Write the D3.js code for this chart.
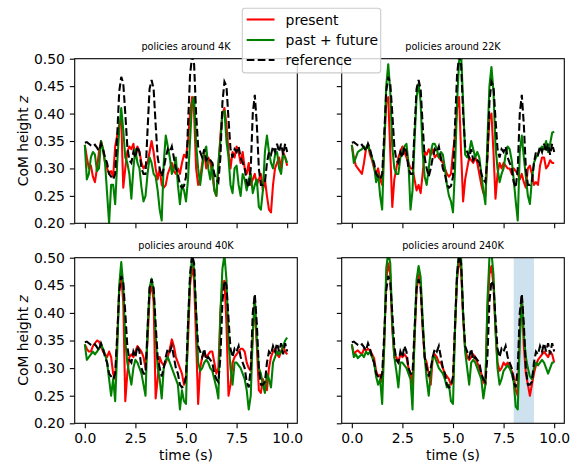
<!DOCTYPE html>
<html><head><meta charset="utf-8">
<script src="https://cdn.jsdelivr.net/npm/d3@7"></script>
<style>body{margin:0;background:#fff}svg{display:block}</style>
</head><body>
<svg id="chart" width="580" height="465"></svg>
<script>
// sample times (s), 0.1 s steps
const time = d3.range(101).map(i => i / 10);

const reference = [
 .347,.348,.345,.342,.340,.343,.338,.332,.345,.335,
 .320,.310,.290,.285,.280,.290,.360,.440,.467,.455,
 .400,.340,.315,.310,.330,.320,.340,.330,.300,.290,
 .290,.370,.445,.461,.445,.380,.320,.300,.285,.300,
 .320,.335,.330,.340,.320,.300,.290,.270,.265,.268,
 .285,.380,.470,.505,.490,.400,.340,.330,.320,.335,
 .315,.320,.315,.310,.290,.280,.275,.320,.420,.458,
 .450,.390,.335,.320,.335,.330,.340,.320,.310,.300,
 .275,.265,.300,.400,.434,.380,.300,.270,.270,.275,
 .310,.330,.325,.340,.330,.345,.330,.345,.325,.345,
 .330];

const present4K = [
 .343,.320,.300,.305,.285,.275,.300,.330,.350,.335,
 .310,.300,.290,.295,.285,.340,.360,.380,.390,.265,
 .300,.330,.340,.335,.345,.320,.340,.330,.310,.300,
 .305,.310,.330,.350,.330,.300,.280,.300,.270,.265,
 .270,.290,.300,.310,.295,.290,.300,.290,.310,.325,
 .320,.350,.400,.430,.400,.300,.270,.280,.310,.330,
 .300,.320,.310,.290,.260,.250,.300,.360,.400,.410,
 .380,.330,.300,.330,.320,.340,.330,.310,.330,.300,
 .290,.310,.270,.280,.290,.270,.280,.290,.260,.280,
 .250,.225,.220,.270,.300,.310,.320,.300,.330,.320,
 .305];
const pastFuture4K = [
 .343,.280,.290,.320,.330,.325,.295,.300,.350,.335,
 .310,.255,.200,.270,.270,.235,.310,.370,.410,.370,
 .320,.310,.290,.245,.300,.335,.310,.300,.265,.240,
 .250,.290,.320,.310,.290,.285,.260,.225,.205,.310,
 .360,.340,.320,.290,.300,.320,.270,.235,.270,.260,
 .240,.280,.350,.420,.430,.345,.300,.270,.300,.330,
 .340,.300,.280,.310,.260,.250,.310,.350,.400,.405,
 .350,.320,.270,.255,.300,.305,.270,.250,.290,.280,
 .260,.280,.290,.255,.270,.280,.230,.225,.260,.330,
 .360,.330,.310,.300,.325,.330,.300,.290,.325,.320,
 .310];

const present22K = [
 .343,.320,.305,.300,.295,.290,.310,.335,.343,.325,
 .315,.300,.290,.300,.280,.270,.340,.420,.430,.330,
 .230,.280,.300,.320,.330,.340,.330,.320,.310,.300,
 .300,.280,.260,.270,.255,.290,.330,.325,.335,.325,
 .335,.320,.325,.320,.315,.310,.300,.290,.285,.290,
 .330,.360,.410,.430,.330,.240,.280,.300,.320,.315,
 .310,.320,.310,.290,.270,.255,.250,.320,.390,.400,
 .330,.245,.290,.310,.300,.310,.305,.300,.300,.290,
 .300,.295,.290,.280,.290,.275,.265,.300,.305,.290,
 .270,.275,.270,.305,.320,.320,.300,.305,.315,.310,
 .310];
const pastFuture22K = [
 .343,.310,.320,.330,.333,.335,.340,.335,.345,.330,
 .320,.305,.275,.290,.250,.225,.340,.450,.490,.440,
 .340,.300,.290,.290,.320,.330,.340,.345,.310,.225,
 .260,.350,.430,.455,.420,.330,.285,.270,.300,.330,
 .345,.345,.335,.320,.330,.325,.300,.270,.250,.240,
 .220,.300,.420,.495,.510,.420,.325,.320,.330,.350,
 .335,.320,.330,.320,.290,.260,.235,.350,.450,.485,
 .440,.340,.300,.275,.290,.300,.325,.340,.335,.315,
 .280,.240,.205,.330,.360,.320,.285,.250,.235,.280,
 .310,.320,.325,.335,.340,.335,.350,.330,.345,.365,
 .367];

const present40K = [
 .343,.335,.330,.330,.340,.345,.350,.348,.340,.330,
 .325,.320,.330,.320,.290,.280,.350,.440,.465,.420,
 .240,.290,.320,.325,.320,.330,.340,.335,.330,.320,
 .300,.350,.430,.455,.420,.245,.280,.320,.310,.305,
 .310,.320,.335,.352,.340,.320,.310,.300,.290,.270,
 .285,.350,.450,.485,.460,.350,.235,.300,.320,.325,
 .320,.325,.330,.330,.310,.290,.300,.400,.455,.458,
 .380,.250,.270,.310,.320,.325,.330,.335,.335,.330,
 .310,.300,.295,.360,.420,.340,.260,.255,.280,.270,
 .260,.300,.320,.330,.335,.325,.320,.330,.340,.330,
 .325];
const pastFuture40K = [
 .343,.315,.320,.325,.330,.325,.330,.335,.343,.335,
 .325,.310,.280,.250,.280,.240,.330,.450,.492,.450,
 .350,.310,.290,.270,.300,.315,.310,.300,.290,.270,
 .250,.370,.445,.462,.440,.360,.300,.280,.245,.300,
 .315,.320,.310,.300,.290,.280,.270,.225,.260,.240,
 .235,.380,.460,.500,.480,.400,.310,.295,.300,.310,
 .315,.310,.300,.295,.280,.265,.245,.400,.480,.505,
 .460,.350,.300,.270,.310,.310,.305,.300,.290,.280,
 .260,.225,.250,.360,.430,.350,.300,.290,.270,.255,
 .290,.280,.265,.310,.320,.330,.325,.330,.340,.350,
 .355];

const present240K = [
 .343,.325,.330,.332,.328,.325,.335,.332,.335,.332,
 .325,.318,.295,.285,.288,.275,.340,.460,.490,.470,
 .370,.320,.320,.310,.325,.320,.325,.320,.300,.290,
 .270,.350,.440,.470,.450,.370,.320,.310,.290,.270,
 .320,.325,.320,.310,.310,.300,.290,.285,.280,.270,
 .275,.370,.460,.495,.480,.390,.335,.320,.315,.320,
 .325,.318,.310,.300,.290,.275,.270,.400,.470,.485,
 .450,.370,.310,.295,.300,.310,.305,.310,.300,.295,
 .285,.260,.250,.360,.430,.340,.290,.270,.250,.270,
 .290,.305,.315,.320,.325,.330,.325,.320,.330,.325,
 .310];
const pastFuture240K = [
 .343,.320,.325,.318,.322,.325,.320,.330,.325,.330,
 .320,.310,.285,.270,.280,.235,.340,.480,.510,.490,
 .380,.320,.295,.265,.310,.310,.305,.300,.290,.280,
 .225,.360,.460,.485,.465,.390,.320,.280,.250,.290,
 .320,.320,.310,.300,.295,.290,.280,.265,.270,.240,
 .235,.370,.470,.510,.500,.400,.330,.300,.270,.310,
 .315,.310,.300,.290,.280,.245,.270,.420,.500,.510,
 .470,.370,.300,.270,.280,.295,.300,.305,.300,.290,
 .275,.230,.225,.350,.430,.360,.320,.300,.285,.280,
 .300,.310,.305,.310,.315,.310,.300,.290,.300,.310,
 .310];

const panelTitles = ["policies around 4K", "policies around 22K", "policies around 40K", "policies around 240K"];
const presentSeries = [present4K, present22K, present40K, present240K];
const pastFutureSeries = [pastFuture4K, pastFuture22K, pastFuture40K, pastFuture240K];
const xTicks = [0, 2.5, 5, 7.5, 10];
const yTicks = [0.20, 0.25, 0.30, 0.35, 0.40, 0.45, 0.50];
const highlightSpan = [8, 9]; // only in last panel
const legendLabels = ["present", "past + future", "reference"];

const FONT = "DejaVu Sans, sans-serif";
const svg = d3.select("#chart");
const lw = 2.08;
const dash = "7.7,3.3";

const boxes = [
  {x0: 74.7, x1: 297.3, y0: 58.7, y1: 223.3},
  {x0: 341.7, x1: 564.3, y0: 58.7, y1: 223.3},
  {x0: 74.7, x1: 297.3, y0: 257.7, y1: 423.3},
  {x0: 341.7, x1: 564.3, y0: 257.7, y1: 423.3}
];

boxes.forEach((b, i) => {
  const x = d3.scaleLinear().domain([-0.5, 10.5]).range([b.x0, b.x1]);
  const y = d3.scaleLinear().domain([0.2, 0.5]).range([b.y1, b.y0]);
  const g = svg.append("g");
  const clipId = "clip" + i;
  svg.append("clipPath").attr("id", clipId).append("rect")
    .attr("x", b.x0).attr("y", b.y0).attr("width", b.x1 - b.x0).attr("height", b.y1 - b.y0);

  const plot = g.append("g").attr("clip-path", `url(#${clipId})`);
  if (i === 3) {
    plot.append("rect")
      .attr("x", x(highlightSpan[0])).attr("y", b.y0)
      .attr("width", x(highlightSpan[1]) - x(highlightSpan[0])).attr("height", b.y1 - b.y0)
      .attr("fill", "#1f77b4").attr("fill-opacity", 0.22);
  }
  const line = d3.line().x((d, k) => x(time[k])).y(d => y(d));
  plot.append("path").datum(presentSeries[i]).attr("d", line)
    .attr("fill", "none").attr("stroke", "#ff0000").attr("stroke-width", lw).attr("stroke-linejoin", "round");
  plot.append("path").datum(pastFutureSeries[i]).attr("d", line)
    .attr("fill", "none").attr("stroke", "#008000").attr("stroke-width", lw).attr("stroke-linejoin", "round");
  plot.append("path").datum(reference).attr("d", line)
    .attr("fill", "none").attr("stroke", "#000").attr("stroke-width", lw).attr("stroke-dasharray", dash);

  const showXLabels = i >= 2, showYLabels = i % 2 === 0;
  const xa = d3.axisBottom(x).tickValues(xTicks).tickSize(4.9).tickPadding(4.9).tickSizeOuter(0)
    .tickFormat(showXLabels ? d3.format(".1f") : () => "");
  const ya = d3.axisLeft(y).tickValues(yTicks).tickSize(4.9).tickPadding(4.9).tickSizeOuter(0)
    .tickFormat(showYLabels ? d3.format(".2f") : () => "");
  const gx = g.append("g").attr("transform", `translate(0,${b.y1})`).call(xa);
  const gy = g.append("g").attr("transform", `translate(${b.x0},0)`).call(ya);
  [gx, gy].forEach(a => {
    a.select(".domain").remove();
    a.selectAll("line").attr("stroke", "#000").attr("stroke-width", 1.1);
    a.selectAll("text").attr("font-family", FONT).attr("font-size", 13.9).attr("fill", "#000");
  });

  g.append("rect").attr("x", b.x0).attr("y", b.y0).attr("width", b.x1 - b.x0).attr("height", b.y1 - b.y0)
    .attr("fill", "none").attr("stroke", "#000").attr("stroke-width", 1.1);

  g.append("text").attr("x", (b.x0 + b.x1) / 2).attr("y", b.y0 - 8.3)
    .attr("text-anchor", "middle").attr("font-family", FONT).attr("font-size", 9.7).attr("fill", "#000")
    .text(panelTitles[i]);

  if (showYLabels) {
    const t = g.append("text").attr("transform", `translate(28,${(b.y0 + b.y1) / 2}) rotate(-90)`)
      .attr("text-anchor", "middle").attr("font-family", FONT).attr("font-size", 13.9).attr("fill", "#000");
    t.append("tspan").text("CoM height ");
    t.append("tspan").attr("font-style", "italic").text("z");
  }
  if (showXLabels) {
    g.append("text").attr("x", (b.x0 + b.x1) / 2).attr("y", 460)
      .attr("text-anchor", "middle").attr("font-family", FONT).attr("font-size", 13.9).attr("fill", "#000")
      .text("time (s)");
  }
});

// legend
const lg = svg.append("g");
lg.append("rect").attr("x", 242.3).attr("y", 8.3).attr("width", 138.4).attr("height", 64.6)
  .attr("rx", 2.8).attr("fill", "#fff").attr("fill-opacity", 0.8).attr("stroke", "#cccccc").attr("stroke-width", 1.1);
const legendColors = ["#ff0000", "#008000", "#000"];
const rowY = [19.5, 40, 60];
legendLabels.forEach((lab, k) => {
  lg.append("line").attr("x1", 246.7).attr("x2", 274.5).attr("y1", rowY[k]).attr("y2", rowY[k])
    .attr("stroke", legendColors[k]).attr("stroke-width", lw)
    .attr("stroke-dasharray", k === 2 ? dash : null);
  lg.append("text").attr("x", 285.6).attr("y", rowY[k] + 5.2)
    .attr("font-family", FONT).attr("font-size", 13.9).attr("fill", "#000").text(lab);
});
</script>
</body></html>
